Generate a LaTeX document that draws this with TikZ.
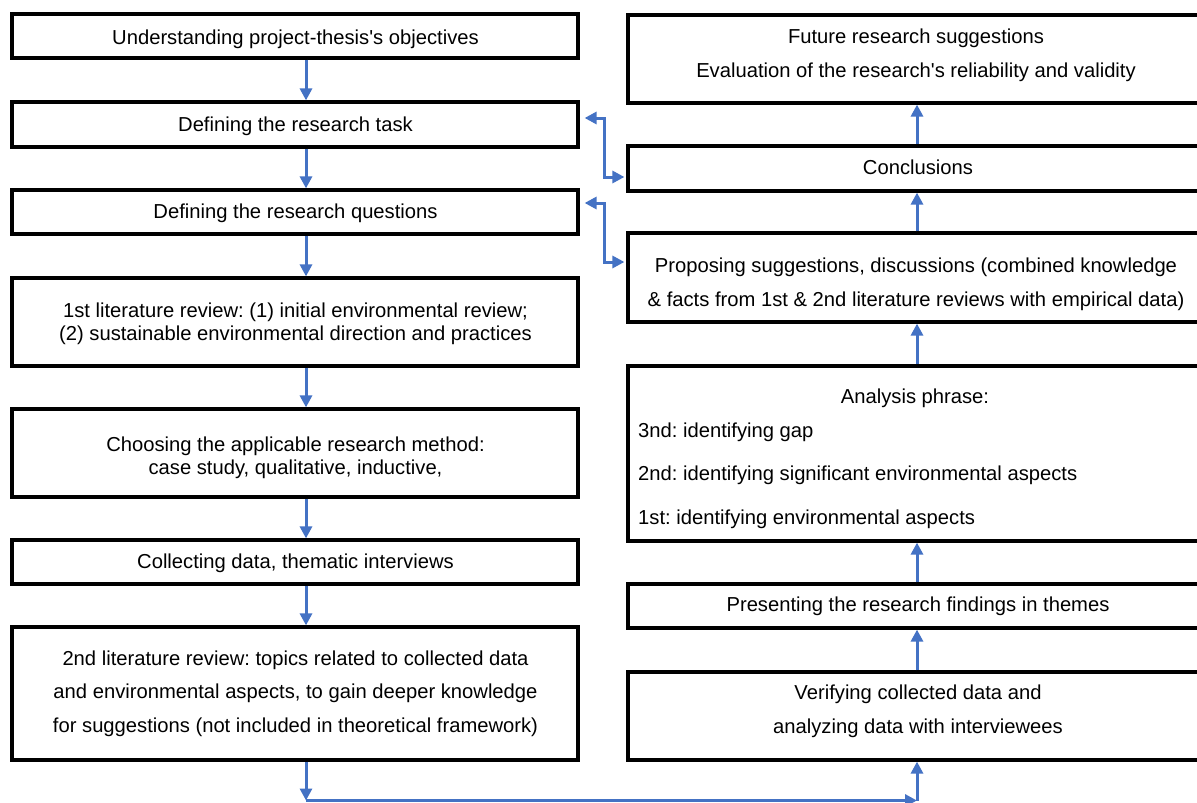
\documentclass[tikz,border=0pt]{standalone}
\usepackage{fontspec}
\setmainfont{Liberation Sans}
\usetikzlibrary{arrows.meta,calc}
\definecolor{arrblue}{RGB}{68,114,196}
\newcommand{\sq}{\textquotesingle}
\frenchspacing
\tikzset{
  box/.style={draw=black, line width=3.2pt, rectangle, inner sep=0pt},
  lbox/.style={box, minimum width=566pt},
  rbox/.style={box, minimum width=580pt},
  txt/.style={inner sep=0pt, anchor=base, font=\fontsize{20.2}{24}\selectfont},
  ltxt/.style={txt, anchor=base west},
  arr/.style={draw=arrblue, line width=3pt, -{Triangle[length=12pt,width=12pt]}},
  darr/.style={draw=arrblue, line width=3pt, {Triangle[length=12pt,width=12pt]}-{Triangle[length=12pt,width=12pt]}}
}
\begin{document}
\begin{tikzpicture}[x=1pt,y=-1pt]
\useasboundingbox (0,0) rectangle (1197,803);
% left column boxes
\node[lbox, minimum height=44pt] (n1) at (295,36) {};
\node[lbox, minimum height=45pt] (n2) at (295,124.5) {};
\node[lbox, minimum height=44pt] (n3) at (295,212) {};
\node[lbox, minimum height=88pt] (n4) at (295,322) {};
\node[lbox, minimum height=88pt] (n5) at (295,453) {};
\node[lbox, minimum height=44pt] (n6) at (295,562) {};
\node[lbox, minimum height=133pt] (n7) at (295,693.5) {};
% left column texts
\node[txt] (t1) at (295.5,44) {Understanding project-thesis\sq s objectives};
\node[txt] (t2) at (295.5,131) {Defining the research task};
\node[txt] (t3) at (295.5,218) {Defining the research questions};
\node[txt] (t4a) at (295.5,317) {1st literature review: (1) initial environmental review;};
\node[txt] (t4b) at (295.5,340) {(2) sustainable environmental direction and practices};
\node[txt] (t5a) at (295.5,451) {Choosing the applicable research method:};
\node[txt] (t5b) at (295.5,474) {case study, qualitative, inductive,};
\node[txt] (t6) at (295.5,568) {Collecting data, thematic interviews};
\node[txt] (t7a) at (295.5,665) {2nd literature review: topics related to collected data};
\node[txt] (t7b) at (295.5,698) {and environmental aspects, to gain deeper knowledge};
\node[txt] (t7c) at (295.5,732) {for suggestions (not included in theoretical framework)};
% right column boxes
\node[rbox, minimum height=88pt] (r1) at (918,59) {};
\node[rbox, minimum height=45pt] (r2) at (918,168.5) {};
\node[rbox, minimum height=89pt] (r3) at (918,277.5) {};
\node[rbox, minimum height=175pt] (r4) at (918,453.5) {};
\node[rbox, minimum height=44pt] (r5) at (918,606) {};
\node[rbox, minimum height=88pt] (r6) at (918,716) {};
% right column texts
\node[txt] (s1a) at (916,43) {Future research suggestions};
\node[txt] (s1b) at (916,77) {Evaluation of the research\sq s reliability and validity};
\node[txt] (s2) at (918,174) {Conclusions};
\node[txt] (s3a) at (916,272) {Proposing suggestions, discussions (combined knowledge};
\node[txt] (s3b) at (916,306) {\& facts from 1st \& 2nd literature reviews with empirical data)};
\node[txt] (a0) at (915,403) {Analysis phrase:};
\node[ltxt] (a1) at (638,437) {3nd: identifying gap};
\node[ltxt] (a2) at (638,480) {2nd: identifying significant environmental aspects};
\node[ltxt] (a3) at (638,524) {1st: identifying environmental aspects};
\node[txt] (s5) at (918,611) {Presenting the research findings in themes};
\node[txt] (s6a) at (918,699) {Verifying collected data and};
\node[txt] (s6b) at (918,733) {analyzing data with interviewees};
% guide coordinates
\coordinate (lx) at (306,0);
\coordinate (rx) at (917,0);
\coordinate (bl) at (306,800.5);
\coordinate (br) at (917,800.5);
% left arrows
\draw[arr] (n1.south -| lx) -- (n2.north -| lx);
\draw[arr] (n2.south -| lx) -- (n3.north -| lx);
\draw[arr] (n3.south -| lx) -- (n4.north -| lx);
\draw[arr] (n4.south -| lx) -- (n5.north -| lx);
\draw[arr] (n5.south -| lx) -- (n6.north -| lx);
\draw[arr] (n6.south -| lx) -- (n7.north -| lx);
% right arrows
\draw[arr] (r6.north -| rx) -- (r5.south -| rx);
\draw[arr] (r5.north -| rx) -- (r4.south -| rx);
\draw[arr] (r4.north -| rx) -- (r3.south -| rx);
\draw[arr] (r3.north -| rx) -- (r2.south -| rx);
\draw[arr] (r2.north -| rx) -- (r1.south -| rx);
% bottom link
\draw[arr] (n7.south -| lx) -- (bl);
\draw[arr] (bl) -- (br);
\draw[arr] (br) -- (r6.south -| rx);
% elbow double arrows
\draw[darr] ([xshift=5pt,yshift=6.5pt]n2.east) -- ++(20,0) |- ([xshift=-2pt,yshift=-8.5pt]r2.west);
\draw[darr] ([xshift=5pt,yshift=9pt]n3.east) -- ++(20,0) |- ([xshift=-2pt,yshift=15.5pt]r3.west);
\end{tikzpicture}
\end{document}
